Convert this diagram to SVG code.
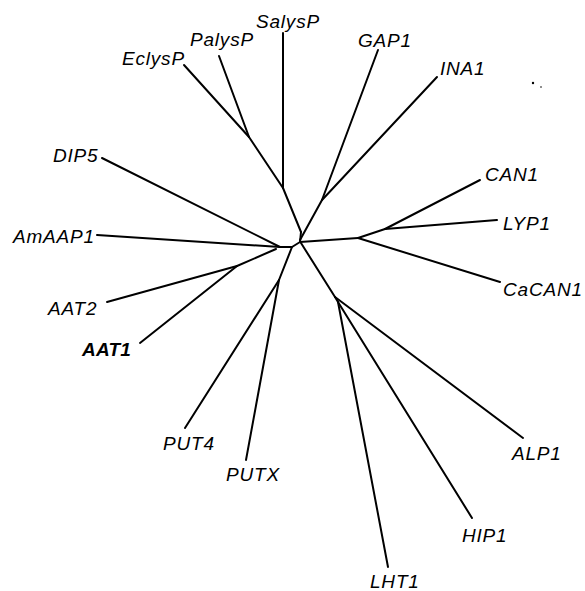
<svg xmlns="http://www.w3.org/2000/svg" width="585" height="591" viewBox="0 0 585 591">
  <style>
    .lbl { font-family: "Liberation Sans", Arial, sans-serif; font-size: 19px; font-style: italic; letter-spacing: 0.8px; fill: #000; }
    .bold { font-weight: bold; letter-spacing: 0.2px; }
    .br { fill: none; stroke: #000; stroke-width: 2; stroke-linecap: round; stroke-linejoin: round; }
  </style>
  <rect width="585" height="591" fill="#fff"/>
  <g id="connectors" class="br">
    <!-- central spine -->
    <polyline points="301,232 300,242 292,247 280,247"/>
    <!-- top-left clade -->
    <line x1="301" y1="232" x2="283" y2="188"/>
    <line x1="283" y1="188" x2="283" y2="33"/>
    <line x1="283" y1="188" x2="249" y2="137"/>
    <line x1="249" y1="137" x2="184" y2="65"/>
    <line x1="249" y1="137" x2="219" y2="56"/>
    <!-- GAP1 / INA1 -->
    <line x1="300" y1="240" x2="322" y2="200"/>
    <line x1="322" y1="200" x2="378" y2="50"/>
    <line x1="322" y1="200" x2="437" y2="77"/>
    <!-- left clade -->
    <line x1="280" y1="247" x2="102" y2="158"/>
    <line x1="280" y1="247" x2="97" y2="235"/>
    <line x1="276" y1="249" x2="237" y2="266"/>
    <line x1="237" y1="266" x2="107" y2="302"/>
    <line x1="237" y1="266" x2="140" y2="343"/>
    <!-- PUT clade -->
    <line x1="292" y1="247" x2="279" y2="280"/>
    <line x1="279" y1="280" x2="185" y2="428"/>
    <line x1="279" y1="280" x2="246" y2="460"/>
    <!-- right clade -->
    <line x1="300" y1="242" x2="358" y2="238"/>
    <line x1="358" y1="238" x2="500" y2="282"/>
    <line x1="358" y1="238" x2="385" y2="229"/>
    <line x1="385" y1="229" x2="480" y2="180"/>
    <line x1="385" y1="229" x2="497" y2="220"/>
    <!-- bottom-right clade -->
    <line x1="301" y1="243" x2="335" y2="297"/>
    <line x1="335" y1="297" x2="523" y2="438"/>
    <line x1="335" y1="297" x2="338" y2="302"/>
    <line x1="338" y1="302" x2="388" y2="567"/>
    <line x1="338" y1="302" x2="472" y2="518"/>
  </g>
  <g id="SalysP"><text class="lbl" x="256" y="28">SalysP</text></g>
  <g id="PalysP"><text class="lbl" x="190" y="46">PalysP</text></g>
  <g id="EclysP"><text class="lbl" x="122" y="65">EclysP</text></g>
  <g id="GAP1"><text class="lbl" x="358" y="47">GAP1</text></g>
  <g id="INA1"><text class="lbl" x="440" y="75">INA1</text></g>
  <g id="DIP5"><text class="lbl" x="53" y="162">DIP5</text></g>
  <g id="AmAAP1"><text class="lbl" x="13" y="243">AmAAP1</text></g>
  <g id="AAT2"><text class="lbl" x="48" y="315">AAT2</text></g>
  <g id="AAT1"><text class="lbl bold" x="82" y="356">AAT1</text></g>
  <g id="PUT4"><text class="lbl" x="163" y="450">PUT4</text></g>
  <g id="PUTX"><text class="lbl" x="226" y="481">PUTX</text></g>
  <g id="CAN1"><text class="lbl" x="485" y="181">CAN1</text></g>
  <g id="LYP1"><text class="lbl" x="503" y="230">LYP1</text></g>
  <g id="CaCAN1"><text class="lbl" x="503" y="296">CaCAN1</text></g>
  <g id="ALP1"><text class="lbl" x="512" y="460">ALP1</text></g>
  <g id="HIP1"><text class="lbl" x="462" y="542">HIP1</text></g>
  <g id="LHT1"><text class="lbl" x="370" y="588">LHT1</text></g>
  <g id="speck" fill="#000">
    <circle cx="533" cy="83" r="1.2"/>
    <circle cx="541" cy="87" r="0.8"/>
  </g>
</svg>
